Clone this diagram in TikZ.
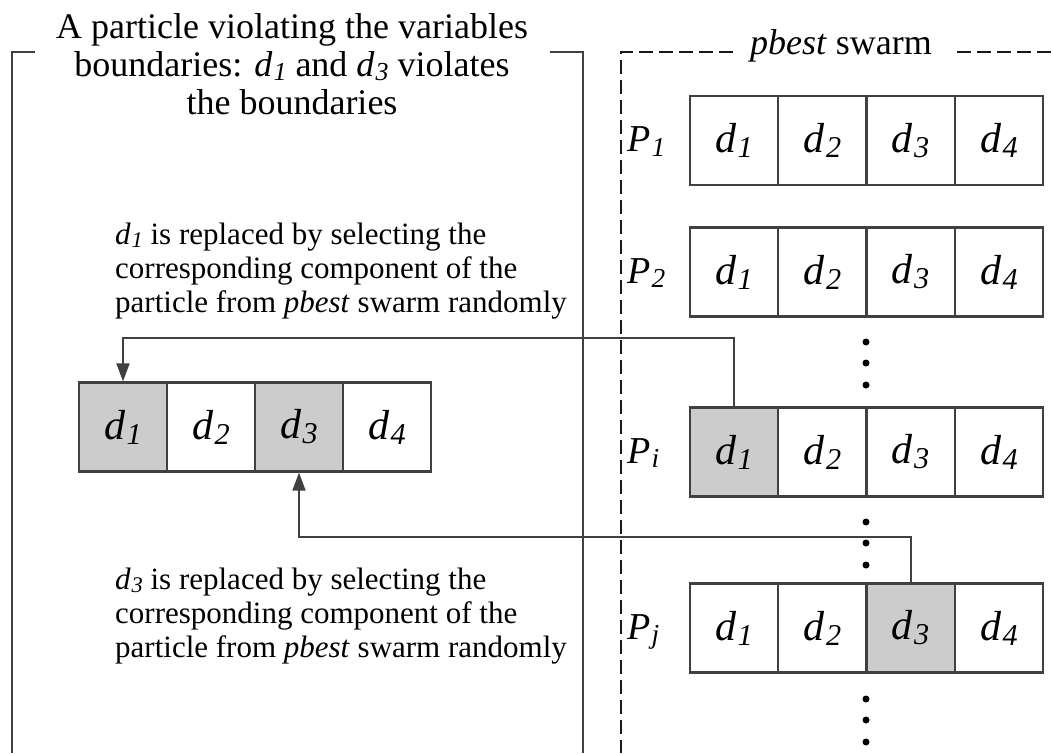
\documentclass[tikz,border=0pt]{standalone}
\usepackage{fontspec}
\setmainfont{Liberation Serif}
\usetikzlibrary{arrows.meta}
\definecolor{cellgray}{RGB}{204,204,204}
\definecolor{linegray}{RGB}{64,64,64}
\newcommand\mysub[1]{\kern0.03em\raisebox{-0.12em}{\scalebox{0.72}{\textit{#1}}}}
\newcommand\myd[1]{\textit{d}\mysub{#1}}
\newcommand\myP[1]{\textit{P}\mysub{#1}}
\begin{document}
\begin{tikzpicture}[x=1pt,y=-1pt,
  cell/.style={draw=linegray, line width=2.2pt, minimum width=88.25pt, minimum height=89pt, inner sep=0pt, fill=white, font=\fontsize{42}{42}\selectfont},
  hot/.style={cell, fill=cellgray},
  plabel/.style={anchor=base west, inner sep=0pt, font=\fontsize{38}{38}\selectfont},
  title/.style={anchor=base, inner sep=0pt, font=\fontsize{36}{40}\selectfont},
  body/.style={anchor=base west, inner sep=0pt, font=\fontsize{31}{34}\selectfont},
  frame/.style={draw=linegray, line width=2.2pt},
  dframe/.style={draw=black!90, line width=2.8pt, dash pattern=on 14pt off 6pt},
  conn/.style={draw=linegray, line width=1.8pt},
  tip/.style={-{Triangle[length=18pt,width=13pt]}},
  dot/.style={circle, fill=black, inner sep=0pt, minimum size=7pt}
]
\useasboundingbox (0,0) rectangle (1053,753);
% left frame
\draw[frame] (35,52) -- (12,52) -- (12,753);
\draw[frame] (550,52) -- (583,52) -- (583,753);
\node[title] (t1) at (292,38) {A particle violating the variables};
\node[title] (t2) at (292,76) {boundaries: \myd{1} and \myd{3} violates};
\node[title] (t3) at (292,114) {the boundaries};
% right dashed frame
\draw[dframe] (733,52) -- (621,52) -- (621,753);
\draw[dframe] (957,52) -- (1053,52);
\node[anchor=base, inner sep=0pt, font=\fontsize{36}{40}\selectfont] (ps) at (841,54) {\textit{pbest} swarm};
% texts
\node[body] (a1) at (115,244) {\myd{1} is replaced by selecting the};
\node[body] (a2) at (115,278) {corresponding component of the};
\node[body] (a3) at (115,312) {particle from \textit{pbest} swarm randomly};
\node[body] (b1) at (115,589) {\myd{3} is replaced by selecting the};
\node[body] (b2) at (115,623) {corresponding component of the};
\node[body] (b3) at (115,657) {particle from \textit{pbest} swarm randomly};
% left particle
\node[hot]  (L1) at (123,427) {\myd{1}};
\node[cell] (L2) at (211,427) {\myd{2}};
\node[hot]  (L3) at (299,427) {\myd{3}};
\node[cell] (L4) at (387,427) {\myd{4}};
% pbest rows
\node[plabel] (p1) at (627,151.5) {\myP{1}};
\node[cell] (A1) at (734.1,140.5) {\myd{1}};
\node[cell] (A2) at (822.4,140.5) {\myd{2}};
\node[cell] (A3) at (910.6,140.5) {\myd{3}};
\node[cell] (A4) at (998.9,140.5) {\myd{4}};
\node[plabel] (p2) at (627,283) {\myP{2}};
\node[cell] (B1) at (734.1,272) {\myd{1}};
\node[cell] (B2) at (822.4,272) {\myd{2}};
\node[cell] (B3) at (910.6,272) {\myd{3}};
\node[cell] (B4) at (998.9,272) {\myd{4}};
\node[plabel] (pi) at (627,463) {\myP{i}};
\node[hot]  (I1) at (734.1,452) {\myd{1}};
\node[cell] (I2) at (822.4,452) {\myd{2}};
\node[cell] (I3) at (910.6,452) {\myd{3}};
\node[cell] (I4) at (998.9,452) {\myd{4}};
\node[plabel] (pj) at (627,639) {\myP{j}};
\node[cell] (J1) at (734.1,628) {\myd{1}};
\node[cell] (J2) at (822.4,628) {\myd{2}};
\node[hot]  (J3) at (910.6,628) {\myd{3}};
\node[cell] (J4) at (998.9,628) {\myd{4}};
% dots
\node[dot] (v1) at (866,342) {};
\node[dot] (v2) at (866,363) {};
\node[dot] (v3) at (866,385) {};
\node[dot] (v4) at (866,522) {};
\node[dot] (v5) at (866,543) {};
\node[dot] (v6) at (866,565) {};
\node[dot] (v7) at (866,699) {};
\node[dot] (v8) at (866,720) {};
\node[dot] (v9) at (866,742) {};
% connectors
\coordinate (h1) at (0,338);
\coordinate (h2) at (0,537);
\draw[conn,tip] (I1.north) -- (I1.north |- h1) -- (L1.north |- h1) -- (L1.north);
\draw[conn,tip] (J3.north) -- (J3.north |- h2) -- (L3.south |- h2) -- (L3.south);
\end{tikzpicture}
\end{document}
